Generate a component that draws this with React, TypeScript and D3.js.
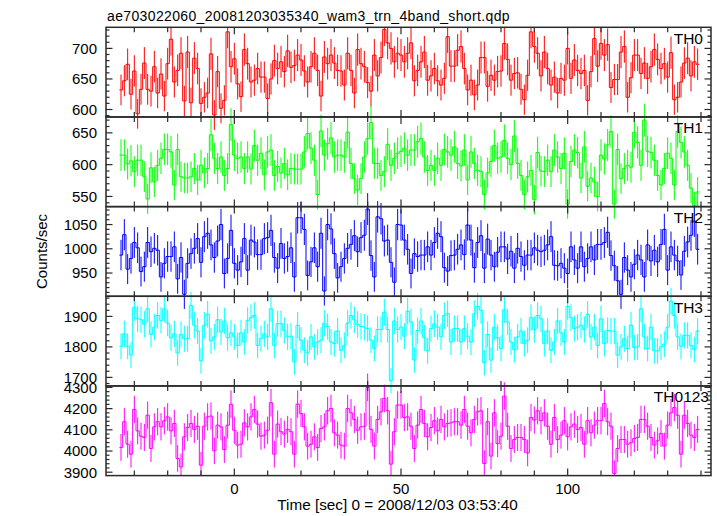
import React from "react";
import * as d3 from "d3";

// ---------- data ----------
const TITLE = "ae703022060_20081203035340_wam3_trn_4band_short.qdp";
const X_LABEL = "Time [sec] 0 = 2008/12/03 03:53:40";
const Y_LABEL = "Counts/sec";
const T_START = -34; // centre of first bin [sec]
const BIN_WIDTH = 1; // sec
const X_DOMAIN = [-38.5, 143];
const X_MAJOR = [0, 50, 100];

const PANEL_NAMES = ["TH0", "TH1", "TH2", "TH3", "TH0123"];
const PANEL_COLORS = ["#ff0000", "#00ff00", "#0000ff", "#00ffff", "#ff00ff"];
const Y_DOMAINS = [
  [587.8, 734.5],
  [534, 675],
  [902, 1087],
  [1672, 1966],
  [3884, 4307],
];
const Y_MAJOR_STEP = [50, 50, 50, 100, 100];
const Y_MINOR_STEP = [10, 10, 10, 20, 20];

const TH0 = [
  632, 647, 674, 625, 663, 593, 633, 676, 633, 630,
  670, 627, 658, 622, 675, 715, 645, 664, 692, 614,
  694, 611, 684, 667, 610, 620, 627, 691, 591, 662,
  602, 615, 727, 670, 683, 642, 621, 698, 675, 645,
  648, 667, 653, 653, 618, 650, 680, 667, 678, 662,
  696, 669, 672, 689, 681, 663, 645, 670, 692, 664,
  622, 686, 675, 689, 676, 664, 663, 640, 692, 664,
  627, 698,
  675, 670, 644, 630, 689, 655, 685, 731, 709, 700,
  678, 692, 689, 678, 692, 709, 647, 664, 678, 694,
  648, 655, 667, 647, 640, 651, 719, 671, 671, 697,
  703, 667, 632, 648, 624, 640, 685, 685, 638, 656,
  648, 662, 663, 708, 682, 648, 659, 660, 633, 616,
  656, 727, 703, 692, 655, 694, 667, 640, 653, 627,
  651, 648, 700, 651, 681, 664, 659, 664, 615, 662,
  716, 671, 708, 689, 706, 636, 649, 649, 694, 703,
  620, 652, 689, 689, 659, 676, 651, 670, 698, 682,
  667, 675, 653, 693, 616, 620, 645, 676, 684, 655,
  678, 674,
];

const TH1 = [
  615, 615, 601, 606, 589, 607, 607, 581, 546, 595,
  573, 599, 610, 624, 624, 620, 568, 624, 581, 579,
  579, 581, 594, 576, 599, 587, 594, 647, 610, 594,
  612, 583, 594, 663, 615, 610, 612, 594, 612, 593,
  630, 607, 618, 584, 620, 623, 583, 597, 587, 602,
  584, 594, 593, 593, 593, 620, 649, 626, 607, 553,
  653, 615, 633, 642, 612, 615, 615, 612, 651, 602,
  578, 560, 578, 612, 641, 666, 602, 602, 583, 589,
  632, 599, 610, 618, 621, 626, 615, 623, 623, 636,
  641, 612, 591, 599, 591, 610, 599, 624, 620, 615,
  628, 602, 598, 623, 576, 620, 602, 591, 589, 553,
  587, 605, 630, 610, 612, 638, 610, 600, 645, 602,
  583, 553, 581, 591, 545, 619, 590, 589, 607, 589,
  623, 612, 594, 618, 538, 605, 623, 619, 579, 628,
  566, 579, 573, 550, 615, 609, 631, 652, 538, 624,
  578, 594, 599, 596, 651, 635, 599, 670, 621, 619,
  607, 583, 568, 594, 618, 610, 568, 652, 635, 620,
  599, 563, 534, 557,
];

const TH2 = [
  987, 1029, 958, 980, 1013, 1002, 953, 963, 1013, 994,
  1001, 997, 942, 970, 984, 984, 1004, 938, 982, 906,
  970, 990, 1001, 1021, 972, 1025, 1032, 1008, 982, 1016,
  1050, 949, 980, 1038, 970, 956, 973, 1021, 956, 1018,
  1014, 988, 988, 1021, 1023, 1038, 982, 960, 1011, 980,
  984, 1002, 942, 1064, 1064, 1040, 945, 973, 1002, 963,
  1032, 913, 1050, 1041, 990, 940, 963, 980, 1001, 1009,
  1027, 994, 1023, 1028, 1082, 986, 942, 1066, 1062, 1016,
  1018, 972, 931, 1050, 1049, 1018, 999, 949, 990, 984,
  987, 987, 1004, 987, 1013, 1032, 1025, 961, 954, 986,
  987, 999, 1008, 988, 1049, 1018, 961, 1013, 1027, 960,
  1020, 987, 963, 993, 1004, 1004, 979, 995, 960, 1001,
  984, 966, 987, 987, 1002, 997, 994, 997, 1008, 1025,
  966, 965, 970, 960, 949, 1004, 977, 960, 1004, 963,
  980, 1004, 977, 1009, 1009, 1013, 1034, 986, 965, 934,
  906, 982, 956, 942, 968, 987, 977, 942, 1008, 975,
  997, 973, 1009, 1040, 956, 1004, 987, 975, 946, 995,
  1014, 1028, 1057, 999,
];

const TH3 = [
  1802, 1843, 1802, 1773, 1930, 1892, 1889, 1874, 1925, 1841,
  1865, 1903, 1887, 1925, 1878, 1830, 1843, 1780, 1841, 1827,
  1827, 1936, 1871, 1852, 1754, 1871, 1907, 1820, 1833, 1889,
  1849, 1885, 1830, 1846, 1833, 1805, 1846, 1816, 1887, 1896,
  1903, 1805, 1827, 1843, 1833, 1925, 1805, 1876, 1876, 1854,
  1833, 1835, 1751, 1871, 1822, 1789, 1780, 1833, 1800, 1816,
  1822, 1878, 1867, 1816, 1811, 1852, 1789, 1805, 1878, 1903,
  1889, 1874, 1867, 1865, 1860, 1822, 1795, 1857, 1857, 1914,
  1857, 1689, 1885, 1857, 1865, 1835, 1917, 1882, 1757, 1854,
  1885, 1830, 1787, 1860, 1876, 1865, 1833, 1903, 1909, 1816,
  1860, 1860, 1816, 1860, 1835, 1816, 1909, 1933, 1920, 1748,
  1841, 1757, 1865, 1830, 1795, 1922, 1882, 1816, 1791, 1833,
  1852, 1811, 1822, 1896, 1857, 1903, 1892, 1811, 1852, 1789,
  1816, 1885, 1846, 1816, 1933, 1896, 1860, 1865, 1871, 1857,
  1907, 1833, 1865, 1805, 1892, 1811, 1854, 1852, 1852, 1773,
  1800, 1827, 1795, 1871, 1798, 1800, 1925, 1833, 1795, 1865,
  1787, 1787, 1800, 1809, 1865, 1950, 1903, 1833, 1802, 1838,
  1838, 1805, 1791, 1852,
];

const TH0123 = [
  4017, 4138, 4032, 3985, 4196, 4095, 4070, 4064, 4169, 4012,
  4114, 4138, 4114, 4143, 4161, 4095, 4130, 3965, 3925, 4067,
  4111, 4130, 4102, 4117, 3933, 4117, 4161, 4165, 4001, 4122,
  4114, 4007, 4122, 4221, 4098, 4028, 4032, 4133, 4114, 4161,
  4196, 4127, 4070, 4075, 4098, 4228, 3985, 4127, 4091, 4080,
  4102, 4091, 3985, 4221, 4177, 4114, 4023, 4032, 4067, 4017,
  4106, 4114, 4190, 4201, 4086, 4075, 4028, 4023, 4201, 4180,
  4149, 4098, 4114, 4117, 4300, 4102, 4023, 4149, 4185, 4248,
  4190, 3938, 4091, 4217, 4217, 4158, 4161, 4117, 4012, 4122,
  4196, 4130, 4067, 4111, 4143, 4095, 4149, 4114, 4130, 4133,
  4138, 4138, 4122, 4196, 4117, 4086, 4149, 4185, 4190, 3941,
  4138, 3976, 4180, 4035, 4070, 4259, 4117, 4012, 4054, 4064,
  4064, 4054, 3991, 4158, 4146, 4190, 4143, 4180, 4117, 4032,
  4158, 4054, 4075, 4143, 4067, 4114, 4127, 4102, 4111, 4032,
  4143, 4086, 4122, 4143, 4143, 4224, 4138, 4117, 3894, 4012,
  4054, 4054, 4032, 4039, 4059, 4064, 4149, 4149, 4117, 4064,
  4028, 4048, 4083, 4023, 4122, 4180, 4205, 4169, 3985, 4169,
  4130, 4075, 4064, 4102,
];

const SERIES = [TH0, TH1, TH2, TH3, TH0123];

// ---------- layout ----------
const W = 717;
const H = 516;
const LEFT = 106;
const RIGHT = 711;
const TOP = 27.3;
const BOTTOM = 475.6;
const FONT = "'Liberation Sans', Arial, Helvetica, sans-serif";
const FRAME = "#2a2a2a";

export default function App() {
  const nP = SERIES.length;
  const ph = (BOTTOM - TOP) / nP;
  const x = d3.scaleLinear().domain(X_DOMAIN).range([LEFT, RIGHT]);
  const xMinor = d3.range(-30, 141, 10);

  const panels = SERIES.map((vals, p) => {
    const y0 = TOP + p * ph;
    const y1 = y0 + ph;
    const y = d3.scaleLinear().domain(Y_DOMAINS[p]).range([y1, y0]);
    const pts: [number, number][] = [];
    vals.forEach((v, i) => {
      const t = T_START + i * BIN_WIDTH;
      pts.push([t - BIN_WIDTH / 2, v]);
      pts.push([t + BIN_WIDTH / 2, v]);
    });
    const line = d3
      .line<[number, number]>()
      .x((d) => x(d[0]))
      .y((d) => y(d[1]));
    const [lo, hi] = Y_DOMAINS[p];
    const minorStep = Y_MINOR_STEP[p];
    const majorStep = Y_MAJOR_STEP[p];
    const yMinor = d3.range(Math.ceil(lo / minorStep) * minorStep, hi + 0.001, minorStep);
    const yMajor = d3.range(Math.ceil(lo / majorStep) * majorStep, hi + 0.5, majorStep);
    return { vals, y, y0, y1, path: line(pts) || "", yMinor, yMajor, p };
  });

  return (
    <svg
      width={W}
      height={H}
      style={{ position: "absolute", left: 0, top: 0, background: "#fff" }}
      fontFamily={FONT}
    >
      <defs>
        <clipPath id="plotclip">
          <rect x={LEFT} y={TOP} width={RIGHT - LEFT} height={BOTTOM - TOP} />
        </clipPath>
      </defs>
      <rect x={0} y={0} width={W} height={H} fill="#fff" />
      <text x={LEFT + 1} y={20.5} fontSize={14} letterSpacing={0.36} fill="#000">
        {TITLE}
      </text>

      <g clipPath="url(#plotclip)">
        {panels.map(({ vals, y, path, p }) => (
          <g key={p} stroke={PANEL_COLORS[p]} strokeWidth={1} fill="none">
            <path d={path} />
            {vals.map((v, i) => {
              const t = T_START + i * BIN_WIDTH;
              const e = Math.sqrt(v);
              return (
                <line key={i} x1={x(t)} x2={x(t)} y1={y(v - e)} y2={y(v + e)} />
              );
            })}
          </g>
        ))}
      </g>

      {panels.map(({ y, y0, y1, yMinor, yMajor, p }) => (
        <g key={"ax" + p} stroke={FRAME} fill="none">
          <rect x={LEFT} y={y0} width={RIGHT - LEFT} height={y1 - y0} strokeWidth={1.5} />
          {xMinor.map((t) => {
            const len = X_MAJOR.includes(t) ? 7 : 5;
            return (
              <g key={t} strokeWidth={1.2}>
                <line x1={x(t)} x2={x(t)} y1={y1} y2={y1 - len} />
                <line x1={x(t)} x2={x(t)} y1={y0} y2={y0 + len} />
              </g>
            );
          })}
          {yMinor.map((v) => {
            const len = yMajor.some((m) => Math.abs(m - v) < 1e-6) ? 6.5 : 3.5;
            return (
              <g key={v} strokeWidth={1.2}>
                <line x1={LEFT} x2={LEFT + len} y1={y(v)} y2={y(v)} />
                <line x1={RIGHT} x2={RIGHT - len} y1={y(v)} y2={y(v)} />
              </g>
            );
          })}
          {yMajor.map((v) => (
            <text
              key={"l" + v}
              x={97}
              y={y(v) + 5.3}
              textAnchor="end"
              fontSize={15}
              fill="#000"
              stroke="none"
            >
              {v}
            </text>
          ))}
          <text
            x={p === nP - 1 ? RIGHT - 2 : RIGHT - 8}
            y={y0 + 16.3}
            textAnchor="end"
            fontSize={15.5}
            fill="#000"
            stroke="none"
          >
            {PANEL_NAMES[p]}
          </text>
        </g>
      ))}

      {X_MAJOR.map((t) => (
        <text key={t} x={x(t)} y={493.5} textAnchor="middle" fontSize={15} fill="#000">
          {t}
        </text>
      ))}
      <text x={397.5} y={510} textAnchor="middle" fontSize={15.3} fill="#000">
        {X_LABEL}
      </text>
      <text
        transform={`translate(47,${(TOP + BOTTOM) / 2}) rotate(-90)`}
        textAnchor="middle"
        fontSize={15}
        fill="#000"
      >
        {Y_LABEL}
      </text>
    </svg>
  );
}
